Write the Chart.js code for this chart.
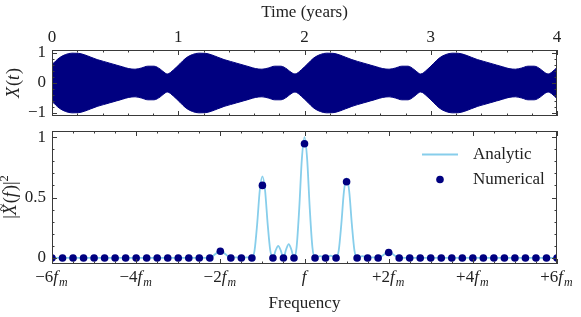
<!DOCTYPE html>
<html>
<head>
<meta charset="utf-8">
<script src="https://cdn.jsdelivr.net/npm/chart.js@4.4.1/dist/chart.umd.min.js"></script>
<style>
  html, body { margin: 0; padding: 0; background: #fff; }
  #wrap { position: relative; width: 581px; height: 317px; }
  canvas { position: absolute; left: 0; top: 0; }
</style>
</head>
<body>
<div id="wrap">
  <canvas id="timeChart" width="581" height="317"></canvas>
  <canvas id="freqChart" width="581" height="317"></canvas>
</div>
<script>
// top panel: envelope of X(t)
const timeYears = [0.00, 0.058, 0.108, 0.158, 0.208, 0.258, 0.308, 0.358, 0.408, 0.458, 0.508, 0.558, 0.608, 0.658, 0.708, 0.758, 0.808, 0.858, 0.878, 0.913,
  0.963, 1.013, 1.063, 1.113, 1.163, 1.213, 1.263, 1.313, 1.363, 1.413, 1.463, 1.513, 1.563, 1.613, 1.663, 1.713, 1.763, 1.813, 1.863, 1.883, 1.925,
  1.975, 2.025, 2.075, 2.125, 2.175, 2.225, 2.275, 2.325, 2.375, 2.42, 2.47, 2.52, 2.57, 2.62, 2.67, 2.72, 2.77, 2.82, 2.865, 2.885, 2.92,
  2.97, 3.02, 3.07, 3.12, 3.17, 3.22, 3.27, 3.32, 3.37, 3.42, 3.47, 3.52, 3.57, 3.62, 3.67, 3.72, 3.77, 3.82, 3.87, 3.89, 3.93, 3.98, 4.00];
const envelope = [0.61, 0.84, 0.95, 0.995, 0.99, 0.94, 0.86, 0.78, 0.72, 0.66, 0.60, 0.54, 0.48, 0.46, 0.50, 0.56, 0.56, 0.46, 0.39, 0.30,
  0.44, 0.64, 0.84, 0.95, 0.995, 0.99, 0.94, 0.86, 0.78, 0.72, 0.66, 0.60, 0.54, 0.48, 0.46, 0.50, 0.56, 0.56, 0.46, 0.39, 0.30,
  0.44, 0.64, 0.84, 0.95, 0.995, 0.99, 0.94, 0.86, 0.78, 0.72, 0.66, 0.60, 0.54, 0.48, 0.46, 0.50, 0.56, 0.56, 0.46, 0.39, 0.30,
  0.44, 0.64, 0.84, 0.95, 0.995, 0.99, 0.94, 0.86, 0.78, 0.72, 0.66, 0.60, 0.54, 0.48, 0.46, 0.50, 0.56, 0.56, 0.46, 0.39, 0.30, 0.44, 0.52];

// bottom panel: numerical spectrum (units of f_m, offset from f)
const freqBins = [-6, -5.75, -5.5, -5.25, -5, -4.75, -4.5, -4.25, -4, -3.75, -3.5, -3.25, -3, -2.75, -2.5, -2.25,
  -2, -1.75, -1.5, -1.25, -1, -0.75, -0.5, -0.25, 0, 0.25, 0.5, 0.75, 1, 1.25, 1.5, 1.75,
  2, 2.25, 2.5, 2.75, 3, 3.25, 3.5, 3.75, 4, 4.25, 4.5, 4.75, 5, 5.25, 5.5, 5.75, 6];
const numericalPower = [0, 0, 0, 0, 0, 0, 0, 0, 0, 0, 0, 0, 0, 0, 0, 0,
  0.055, 0, 0, 0, 0.60, 0, 0, 0, 0.945, 0, 0, 0, 0.63, 0, 0, 0,
  0.045, 0, 0, 0, 0, 0, 0, 0, 0, 0, 0, 0, 0, 0, 0, 0, 0];

// analytic curve
const analyticFreq = [-6, -2.25, -2.125, -2, -1.875, -1.75, -1.625, -1.5, -1.375, -1.25,
  -1.1875, -1.125, -1.0625, -1, -0.9375, -0.875, -0.8125, -0.75, -0.6875, -0.625, -0.5625, -0.5,
  -0.4375, -0.375, -0.3125, -0.25, -0.1875, -0.125, -0.0625, 0, 0.0625, 0.125, 0.1875, 0.25,
  0.3125, 0.375, 0.4375, 0.5, 0.5625, 0.625, 0.6875, 0.75, 0.8125, 0.875, 0.9375, 1, 1.0625, 1.125, 1.1875, 1.25,
  1.375, 1.5, 1.625, 1.75, 1.875, 2, 2.125, 2.25, 6];
const analyticPower = [0, 0, 0.03, 0.065, 0.03, 0, 0.004, 0, 0.005, 0,
  0.06, 0.28, 0.56, 0.675, 0.56, 0.28, 0.06, 0, 0.06, 0.10, 0.06, 0,
  0.07, 0.115, 0.07, 0, 0.09, 0.41, 0.82, 1.0, 0.82, 0.41, 0.09, 0,
  0.01, 0.015, 0.01, 0, 0.01, 0.02, 0.01, 0, 0.06, 0.28, 0.55, 0.66, 0.55, 0.28, 0.06, 0,
  0.015, 0, 0.005, 0, 0.025, 0.055, 0.025, 0, 0];

const timeTicks = [0, 1, 2, 3, 4];
const timeTickLabels = ['0', '1', '2', '3', '4'];
const ampTicks = [-1, 0, 1];
const ampTickLabels = ['−1', '0', '1'];
const freqTicks = [-6, -4, -2, 0, 2, 4, 6];
const freqTickLabels = ['−6f_m', '−4f_m', '−2f_m', 'f', '+2f_m', '+4f_m', '+6f_m'];
const powerTicks = [0, 0.5, 1];
const powerTickLabels = ['0', '0.5', '1'];

const NAVY = '#000080';
const SKY = '#87CEEB';
const AXIS = '#3a3a3a';
const FONT = '"Liberation Serif", "DejaVu Serif", serif';
const FS = 17;

// tiny math-ish text: letters italic, _x subscript, ^x superscript, ~X tilde
function mathParts(str) {
    const out = [];
    for (let i = 0; i < str.length; i++) {
        let c = str[i], mode = 'base', tilde = false;
        if (c === '_' || c === '^') { mode = c === '_' ? 'sub' : 'sup'; c = str[++i]; }
        if (c === '~') { tilde = true; c = str[++i]; }
        out.push({ t: c, it: /[A-Za-z]/.test(c), mode: mode, tilde: tilde });
    }
    return out;
}

function drawMath(ctx, str, x, y, align, size) {
    const parts = mathParts(str);
    let total = 0;
    parts.forEach(p => {
        p.size = p.mode === 'base' ? size : size * 0.7;
        p.font = (p.it ? 'italic ' : '') + p.size + 'px ' + FONT;
        ctx.font = p.font;
        p.w = ctx.measureText(p.t).width + (p.it ? size * 0.06 : 0);
        total += p.w;
    });
    let cx = align === 'center' ? x - total / 2 : (align === 'right' ? x - total : x);
    ctx.textAlign = 'left';
    ctx.textBaseline = 'alphabetic';
    parts.forEach(p => {
        ctx.font = p.font;
        const dy = p.mode === 'sub' ? size * 0.22 : (p.mode === 'sup' ? -size * 0.42 : 0);
        ctx.fillText(p.t, cx, y + dy);
        if (p.tilde) {
            ctx.font = (size * 0.8) + 'px ' + FONT;
            ctx.fillText('~', cx + p.w * 0.3, y - size * 0.5);
        }
        cx += p.w;
    });
}

function minorRange(a, b, step) {
    const vals = [];
    for (let v = a; v <= b + 1e-9; v += step) vals.push(+v.toFixed(6));
    return vals;
}

// frame with inward ticks on all four sides
function drawFrame(chart, xMajor, xMinor, yMajor, yMinor) {
    const ctx = chart.ctx, a = chart.chartArea;
    const xs = chart.scales.x, ys = chart.scales.y;
    ctx.save();
    ctx.strokeStyle = AXIS;
    ctx.lineWidth = 1;
    ctx.strokeRect(a.left + 0.5, a.top + 0.5, a.right - a.left - 1, a.bottom - a.top - 1);
    const tick = (vals, len, horiz) => {
        vals.forEach(v => {
            ctx.beginPath();
            if (horiz) {
                const px = Math.round(xs.getPixelForValue(v)) + 0.5;
                ctx.moveTo(px, a.bottom); ctx.lineTo(px, a.bottom - len);
                ctx.moveTo(px, a.top); ctx.lineTo(px, a.top + len);
            } else {
                const py = Math.round(ys.getPixelForValue(v)) + 0.5;
                ctx.moveTo(a.left, py); ctx.lineTo(a.left + len, py);
                ctx.moveTo(a.right, py); ctx.lineTo(a.right - len, py);
            }
            ctx.stroke();
        });
    };
    tick(xMinor, 2.5, true);
    tick(xMajor, 5, true);
    tick(yMinor, 2.5, false);
    tick(yMajor, 5, false);
    ctx.restore();
}

const timeDecor = {
    id: 'timeDecor',
    afterDraw(chart) {
        const ctx = chart.ctx, a = chart.chartArea;
        drawFrame(chart, timeTicks, minorRange(0, 4, 0.2), ampTicks, minorRange(-1, 1, 0.2));
        ctx.save();
        ctx.fillStyle = '#222';
        timeTicks.forEach((v, i) => drawMath(ctx, timeTickLabels[i], chart.scales.x.getPixelForValue(v), a.top - 8, 'center', FS));
        ctx.font = FS + 'px ' + FONT;
        ctx.textAlign = 'right';
        ctx.textBaseline = 'middle';
        ampTicks.forEach((v, i) => ctx.fillText(ampTickLabels[i], 46, chart.scales.y.getPixelForValue(v)));
        ctx.textAlign = 'center';
        ctx.textBaseline = 'alphabetic';
        ctx.fillText('Time (years)', (a.left + a.right) / 2, 17);
        ctx.translate(19, (a.top + a.bottom) / 2);
        ctx.rotate(-Math.PI / 2);
        drawMath(ctx, 'X(t)', 0, 0, 'center', FS + 1);
        ctx.restore();
    }
};

const freqDecor = {
    id: 'freqDecor',
    afterDraw(chart) {
        const ctx = chart.ctx, a = chart.chartArea;
        drawFrame(chart, freqTicks, minorRange(-6, 6, 0.5), powerTicks, minorRange(0, 1, 0.1));
        ctx.save();
        ctx.fillStyle = '#222';
        freqTicks.forEach((v, i) => drawMath(ctx, freqTickLabels[i], chart.scales.x.getPixelForValue(v), 282, 'center', FS));
        ctx.font = FS + 'px ' + FONT;
        ctx.textAlign = 'right';
        ctx.textBaseline = 'middle';
        powerTicks.forEach((v, i) => ctx.fillText(powerTickLabels[i], 46, chart.scales.y.getPixelForValue(v)));
        ctx.textAlign = 'center';
        ctx.textBaseline = 'alphabetic';
        ctx.fillText('Frequency', (a.left + a.right) / 2, 308);

        // legend, upper right
        const ds = chart.data.datasets;
        ctx.strokeStyle = ds[1].borderColor;
        ctx.lineWidth = ds[1].borderWidth;
        ctx.beginPath(); ctx.moveTo(422, 154.5); ctx.lineTo(458, 154.5); ctx.stroke();
        ctx.fillStyle = ds[0].backgroundColor;
        ctx.beginPath(); ctx.arc(440, 179.5, ds[0].pointRadius, 0, Math.PI * 2); ctx.fill();
        ctx.fillStyle = '#222';
        ctx.textAlign = 'left';
        ctx.textBaseline = 'middle';
        ctx.fillText('Analytic', 473, 155);
        ctx.fillText('Numerical', 473, 180);

        ctx.translate(16, 197);
        ctx.rotate(-Math.PI / 2);
        drawMath(ctx, '|~X(f)|^2', 0, 0, 'center', FS + 1);
        ctx.restore();
    }
};

document.addEventListener('DOMContentLoaded', () => {
    new Chart(document.getElementById('timeChart'), {
        type: 'line',
        data: {
            datasets: [
                {
                    data: timeYears.map((t, i) => ({ x: t, y: envelope[i] })),
                    borderColor: NAVY,
                    backgroundColor: NAVY,
                    borderWidth: 1,
                    pointRadius: 0,
                    cubicInterpolationMode: 'monotone',
                    fill: '+1'
                },
                {
                    data: timeYears.map((t, i) => ({ x: t, y: -envelope[i] })),
                    borderColor: NAVY,
                    backgroundColor: NAVY,
                    borderWidth: 1,
                    pointRadius: 0,
                    cubicInterpolationMode: 'monotone',
                    fill: false
                }
            ]
        },
        options: {
            responsive: false,
            animation: false,
            events: [],
            layout: { padding: { left: 52, right: 24, top: 50, bottom: 201 } },
            scales: {
                x: { type: 'linear', min: 0, max: 4, display: false },
                y: { min: -1.1, max: 1.1, display: false }
            },
            plugins: { legend: { display: false }, tooltip: { enabled: false } }
        },
        plugins: [timeDecor]
    });

    new Chart(document.getElementById('freqChart'), {
        type: 'line',
        data: {
            datasets: [
                {
                    label: 'Numerical',
                    data: freqBins.map((f, i) => ({ x: f, y: numericalPower[i] })),
                    showLine: false,
                    pointRadius: 3.8,
                    pointBackgroundColor: NAVY,
                    backgroundColor: NAVY,
                    pointBorderWidth: 0,
                    clip: 0
                },
                {
                    label: 'Analytic',
                    data: analyticFreq.map((f, i) => ({ x: f, y: analyticPower[i] })),
                    borderColor: SKY,
                    borderWidth: 1.8,
                    pointRadius: 0,
                    cubicInterpolationMode: 'monotone',
                    fill: false
                }
            ]
        },
        options: {
            responsive: false,
            animation: false,
            events: [],
            layout: { padding: { left: 52, right: 24, top: 131, bottom: 53 } },
            scales: {
                x: { type: 'linear', min: -6, max: 6, display: false },
                y: { min: -0.05, max: 1.05, display: false }
            },
            plugins: { legend: { display: false }, tooltip: { enabled: false } }
        },
        plugins: [freqDecor]
    });
});
</script>
</body>
</html>
